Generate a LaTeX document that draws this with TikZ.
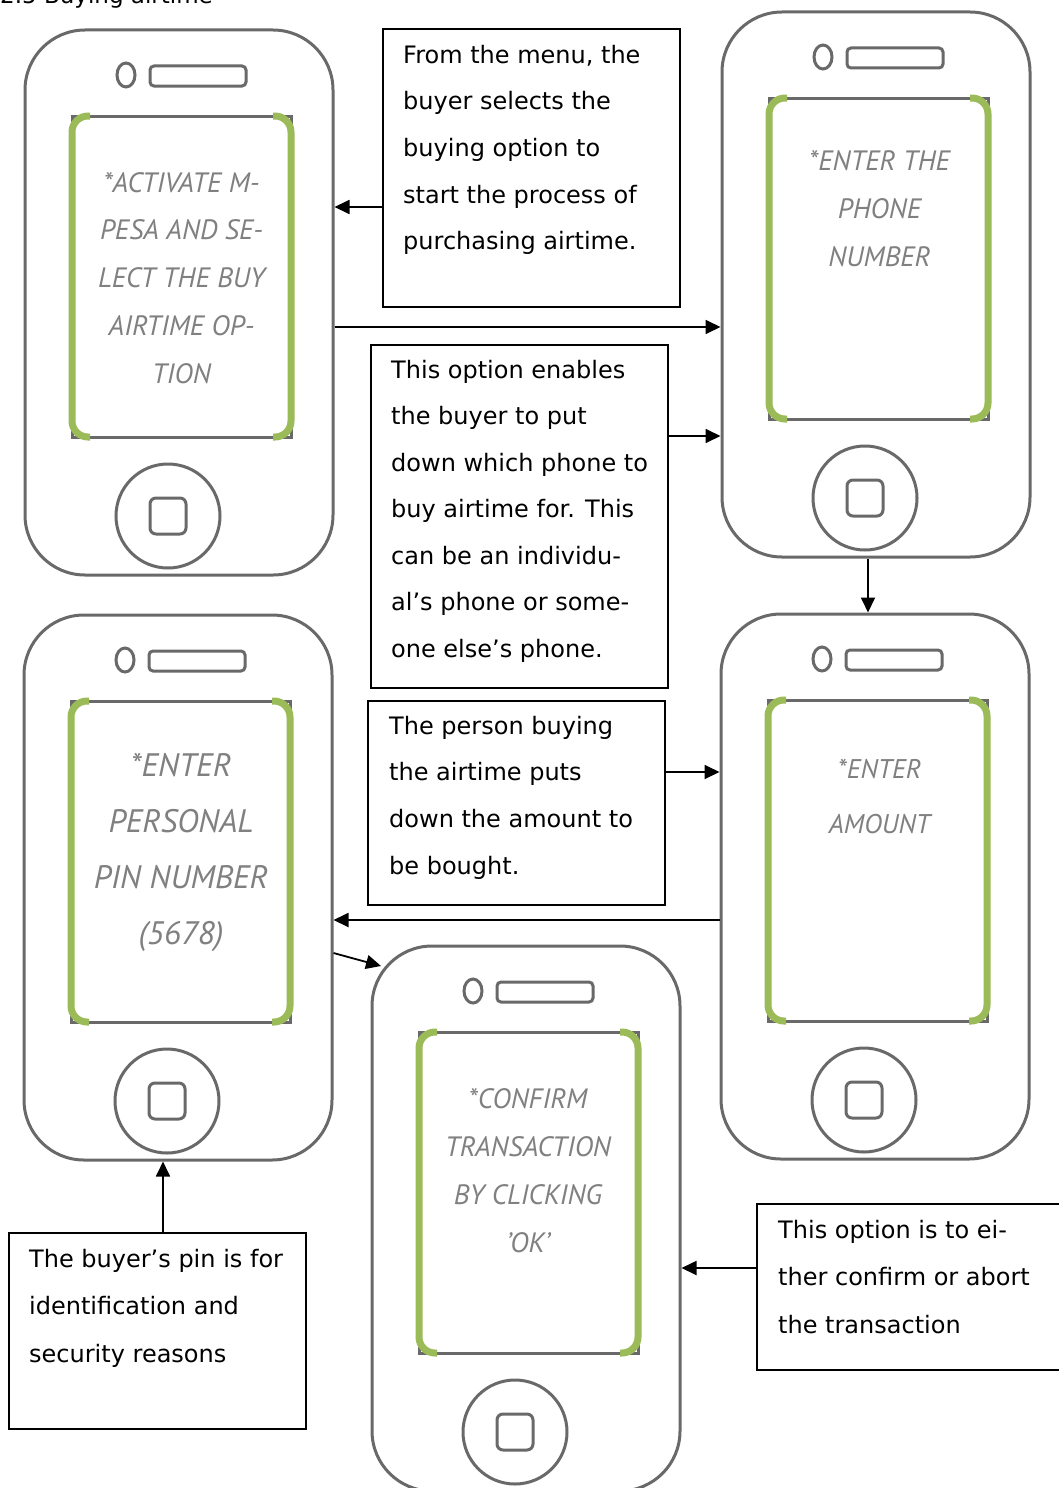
\documentclass[tikz,border=0pt]{standalone}
\usepackage{fontspec}
\setmainfont{DejaVu Sans}
\newfontfamily\scrfont{PT Sans}
\usetikzlibrary{arrows.meta,calc}
\definecolor{phonegray}{RGB}{105,105,105}
\definecolor{scrtext}{RGB}{128,128,128}
\definecolor{brgreen}{HTML}{9BBB59}
\tikzset{
  phoneline/.style={draw=phonegray, line width=3pt},
  phonebody/.style={phoneline, rectangle, rounded corners=60pt, minimum width=308pt, minimum height=545pt, inner sep=0pt},
  screenbox/.style={phoneline, rectangle, minimum width=219pt, minimum height=321pt, inner sep=0pt},
  greenbr/.style={draw=brgreen, line width=7pt, rounded corners=16pt},
  homebtn/.style={phoneline, circle, minimum size=104pt, inner sep=0pt},
  infobox/.style={draw=black, line width=1.3pt, rectangle, inner sep=0pt},
  infotext/.style={anchor=base west, align=left, inner sep=0pt, font=\fontsize{24}{46.7}\selectfont},
  scrlabel/.style={anchor=base, align=center, inner sep=0pt, text=scrtext},
  arr/.style={-{Triangle[length=15pt,width=14pt]}, line width=1.8pt, draw=black},
  phone/.pic={
    \node[phonebody] (-body) at (154,272.5) {};
    \draw[phoneline] (101,45) ellipse (9pt and 12pt);
    \draw[phoneline, rounded corners=4pt] (125,36) rectangle (221,56);
    \node[screenbox] (-screen) at (156.5,246.5) {};
    \draw[greenbr] (65,86) -- (47,86) -- (47,407) -- (65,407);
    \draw[greenbr] (248,86) -- (266,86) -- (266,407) -- (248,407);
    \node[homebtn] (-home) at (143,486) {};
    \draw[phoneline, rounded corners=6pt] (125,468) rectangle (161,504);
  }
}
\begin{document}
\begin{tikzpicture}[x=1pt,y=-1pt]
\useasboundingbox (0,0) rectangle (1058,1488);
\fill[white] (0,0) rectangle (1058,1488);

\node[anchor=base west, inner sep=0pt, font=\fontsize{23}{28}\selectfont] (title) at (0,4) {2.5 Buying airtime};

% phones
\pic (p1) at (25,30) {phone};
\pic (p2) at (722,12) {phone};
\pic (p3) at (24,615) {phone};
\pic (p4) at (721,614) {phone};
\pic (p5) at (372,946) {phone};

% screen texts (anchored at the baseline of the last line)
\node[scrlabel, font=\scrfont\itshape\fontsize{28}{47.75}\selectfont] (s1) at (181.5,383)
  {*ACTIVATE M-\\PESA AND SE-\\LECT THE BUY\\AIRTIME OP-\\TION};
\node[scrlabel, font=\scrfont\itshape\fontsize{28}{48}\selectfont] (s2) at (879.5,266)
  {*ENTER THE\\PHONE\\NUMBER};
\node[scrlabel, font=\scrfont\itshape\fontsize{32.5}{56}\selectfont] (s3) at (181,944)
  {*ENTER\\PERSONAL\\PIN NUMBER\\(5678)};
\node[scrlabel, font=\scrfont\itshape\fontsize{27}{55}\selectfont] (s4) at (879.5,833)
  {*ENTER\\AMOUNT};
\node[scrlabel, font=\scrfont\itshape\fontsize{28}{48}\selectfont] (s5) at (528,1252)
  {*CONFIRM\\TRANSACTION\\BY CLICKING\\’OK’};

% info boxes
\node[infobox, minimum width=297pt, minimum height=278pt] (boxA) at (531.5,168) {};
\node[infobox, minimum width=297pt, minimum height=343pt] (boxB) at (519.5,516.5) {};
\node[infobox, minimum width=297pt, minimum height=204pt] (boxC) at (516.5,803) {};
\node[infobox, minimum width=297pt, minimum height=196pt] (boxD) at (157.5,1331) {};
\node[infobox, minimum width=313pt, minimum height=166pt] (boxE) at (913.5,1287) {};

\node[infotext] (tA) at (403,249.8) {From the menu, the\\buyer selects the\\buying option to\\start the process of\\purchasing airtime.};
\node[infotext, font=\fontsize{24}{46.5}\selectfont] (tB) at (391,657) {This option enables\\the buyer to put\\down which phone to\\buy airtime for. This\\can be an individu-\\al’s phone or some-\\one else’s phone.};
\node[infotext] (tC) at (389,874.1) {The person buying\\the airtime puts\\down the amount to\\be bought.};
\node[infotext, font=\fontsize{24}{47.5}\selectfont] (tD) at (29,1362) {The buyer’s pin is for\\identification and\\security reasons};
\node[infotext, font=\fontsize{24}{47.5}\selectfont] (tE) at (778,1333) {This option is to ei-\\ther confirm or abort\\the transaction};

% connector helper coordinates
\coordinate (y1) at (0,207);
\coordinate (y2) at (0,327);
\coordinate (y3) at (0,436);
\coordinate (x4) at (868,0);
\coordinate (y5) at (0,772);
\coordinate (y6) at (0,920);
\coordinate (y7) at (0,953);
\coordinate (c7) at (381,966);
\coordinate (x8) at (163,0);
\coordinate (y9) at (0,1268);

% connectors
\draw[arr] (boxA.west |- y1) -- (p1-body.east |- y1);
\draw[arr] (p1-body.east |- y2) -- (p2-body.west |- y2);
\draw[arr] (boxB.east |- y3) -- (p2-body.west |- y3);
\draw[arr] (p2-body.south -| x4) -- (p4-body.north -| x4);
\draw[arr] (boxC.east |- y5) -- (p4-body.west |- y5);
\draw[arr] (p4-body.west |- y6) -- (p3-body.east |- y6);
\draw[arr] (p3-body.east |- y7) -- (c7);
\draw[arr] (boxD.north -| x8) -- (p3-body.south -| x8);
\draw[arr] (boxE.west |- y9) -- (p5-body.east |- y9);
\end{tikzpicture}
\end{document}
